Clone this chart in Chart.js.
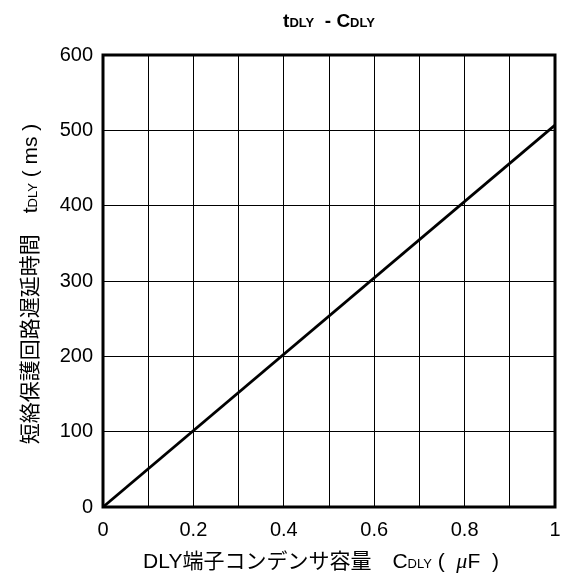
<!DOCTYPE html>
<html>
<head>
<meta charset="utf-8">
<script src="https://cdn.jsdelivr.net/npm/chart.js@4/dist/chart.umd.min.js"></script>
<style>
  html, body { margin: 0; padding: 0; background: #fff; }
  #wrap { width: 566px; height: 577px; }
</style>
</head>
<body>
<div id="wrap"><canvas id="c" width="566" height="577"></canvas></div>
<script>
// Capacitance on the DLY pin (µF) and resulting short-circuit delay (ms)
const capacitance = [0, 1];
const delayMs = [0, 507];

const xTicks = [0, 0.2, 0.4, 0.6, 0.8, 1];
const yTicks = [0, 100, 200, 300, 400, 500, 600];

const FONT = '"Liberation Sans", Arial, "Noto Sans CJK JP", sans-serif';
const CJK = '"Noto Sans CJK JP", "Liberation Sans", sans-serif';
const MU = '"Liberation Serif", serif';

// Text made of runs: [text, size, bold, family, italic]
function fontOf(r) {
  return (r[4] ? 'italic ' : '') + (r[2] ? 'bold ' : '') + r[1] + 'px ' + (r[3] || FONT);
}
function drawRuns(ctx, runs, x, y, align) {
  const widths = runs.map(r => { ctx.font = fontOf(r); return ctx.measureText(r[0]).width; });
  const total = widths.reduce((a, b) => a + b, 0);
  let cx = align === 'center' ? x - total / 2 : x;
  ctx.textBaseline = 'alphabetic';
  ctx.textAlign = 'left';
  runs.forEach((r, i) => {
    ctx.font = fontOf(r);
    ctx.fillText(r[0], cx, y);
    cx += widths[i];
  });
}

const labelsPlugin = {
  id: 'labels',
  afterDraw(chart) {
    const ctx = chart.ctx;
    const a = chart.chartArea;
    ctx.save();
    ctx.fillStyle = '#000';
    // Title
    drawRuns(ctx, [['t', 19, true], ['DLY', 13, true], ['  - ', 19, true], ['C', 19, true], ['DLY', 13, true]],
      (a.left + a.right) / 2, 27, 'center');
    // X axis title
    drawRuns(ctx, [['DLY', 21, false], ['端子コンデンサ容量\u3000', 21, false, CJK], ['C', 21, false], ['DLY', 13, false],
      [' (  ', 21, false], ['\u03BC', 22, false, MU, true], ['F  )', 21, false]],
      (a.left + a.right) / 2 - 8, 568, 'center');
    // Y axis title, rotated
    ctx.translate(37, 284);
    ctx.rotate(-Math.PI / 2);
    drawRuns(ctx, [['短絡保護回路遅延時間\u3000', 21, false, CJK], ['t', 21, false], ['DLY', 13, false], [' ( ms )', 21, false]],
      0, 0, 'center');
    ctx.restore();
  }
};

const framePlugin = {
  id: 'frame',
  afterDatasetsDraw(chart) {
    const ctx = chart.ctx;
    const a = chart.chartArea;
    ctx.save();
    ctx.strokeStyle = '#000';
    ctx.lineWidth = 3;
    ctx.strokeRect(a.left, a.top, a.right - a.left, a.bottom - a.top);
    ctx.restore();
  }
};

new Chart(document.getElementById('c'), {
  type: 'scatter',
  data: {
    datasets: [{
      data: capacitance.map((x, i) => ({ x: x, y: delayMs[i] })),
      showLine: true,
      borderColor: '#000',
      borderWidth: 2.8,
      pointRadius: 0,
      fill: false
    }]
  },
  options: {
    responsive: false,
    animation: false,
    devicePixelRatio: 1,
    layout: { padding: { top: 55, right: 11, left: 0, bottom: 0 } },
    plugins: { legend: { display: false }, tooltip: { enabled: false } },
    scales: {
      x: {
        type: 'linear', min: 0, max: 1,
        afterBuildTicks(s) { s.ticks = []; for (let i = 0; i <= 10; i++) s.ticks.push({ value: i / 10 }); },
        afterFit(s) { s.height = 70; s.paddingLeft = 0; s.paddingRight = 0; },
        grid: { color: '#000', lineWidth: 1, drawTicks: false },
        border: { display: false },
        ticks: {
          color: '#000', padding: 11, maxRotation: 0, autoSkip: false,
          font: { family: FONT, size: 20 },
          callback(v) {
            const t = xTicks.find(k => Math.abs(k - v) < 1e-9);
            return t === undefined ? '' : String(t);
          }
        }
      },
      y: {
        type: 'linear', min: 0, max: 600,
        afterBuildTicks(s) { s.ticks = yTicks.map(v => ({ value: v })); },
        afterFit(s) { s.width = 103; s.paddingTop = 0; s.paddingBottom = 0; },
        grid: { color: '#000', lineWidth: 1, drawTicks: false },
        border: { display: false },
        ticks: { color: '#000', padding: 10, font: { family: FONT, size: 20 } }
      }
    }
  },
  plugins: [framePlugin, labelsPlugin]
});
</script>
</body>
</html>
